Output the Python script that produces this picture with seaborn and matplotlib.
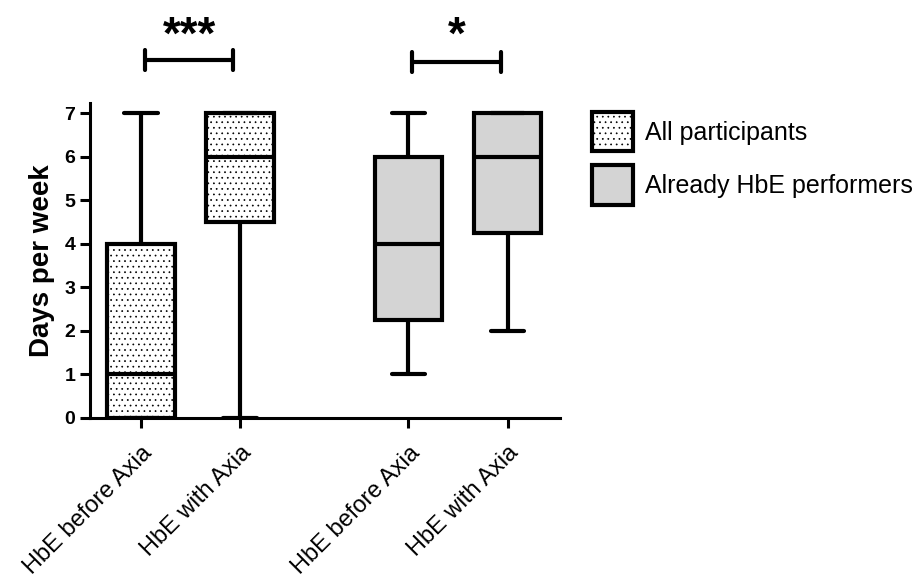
import pandas as pd
import seaborn as sns
from matplotlib import pyplot as plt
from matplotlib.patches import Patch

sns.set_style("ticks")
plt.rcParams['font.family'] = ['Liberation Sans', 'DejaVu Sans']
plt.rcParams['hatch.linewidth'] = 0.5
for k in ['text.color', 'axes.labelcolor', 'axes.edgecolor', 'xtick.color', 'ytick.color']:
    plt.rcParams[k] = 'black'

# days per week, one list per box (quartiles)
all_before = [0, 0, 0, 1, 4, 4, 7]
all_with = [0, 4.5, 4.5, 6, 7, 7, 7]
hbe_before = [1, 2.25, 2.25, 4, 6, 6, 7]
hbe_with = [2, 4.25, 4.25, 6, 7, 7, 7]

tick_labels = ['HbE before Axia', 'HbE with Axia', 'HbE before Axia', 'HbE with Axia']
groups = ['All participants', 'Already HbE performers']
stars = ['***', '*']

# x positions of the boxes (gap between the two groups)
pos = [0, 1, 2.7, 3.7]


def make_df(a, b, xa, xb):
    return pd.DataFrame({'x': [xa] * len(a) + [xb] * len(b), 'days': a + b})


df_all = make_df(all_before, all_with, pos[0], pos[1])
df_hbe = make_df(hbe_before, hbe_with, pos[2], pos[3])

fig = plt.figure(figsize=(9.23, 5.78), dpi=100)
ax = fig.add_axes([90 / 923, 160 / 578, 470 / 923, 315 / 578])

box_kw = dict(x='x', y='days', native_scale=True, whis=(0, 100), width=0.68,
              linewidth=3, linecolor='black', saturation=1, ax=ax)

sns.boxplot(data=df_all, color='white', **box_kw)
n_hatched = len(ax.patches)
sns.boxplot(data=df_hbe, color='#d4d4d4', **box_kw)
for p in ax.patches[:n_hatched]:
    p.set_hatch('...')

ax.set_xlim(-0.515, 4.23)
ax.set_ylim(0, 7.23)
ax.set_yticks(range(8))
ax.set_xticks(pos)
ax.set_xticklabels(tick_labels, rotation=45, ha='right', rotation_mode='anchor',
                   fontsize=17)
for t in ax.get_yticklabels():
    t.set_fontweight('bold')
    t.set_fontsize(14)
ax.set_xlabel('')
ax.set_ylabel('Days per week', fontsize=20, fontweight='bold', labelpad=7)

sns.despine(ax=ax)
for s in ['left', 'bottom']:
    ax.spines[s].set_linewidth(2.2)
ax.tick_params(axis='both', width=2.2, length=7)
ax.tick_params(axis='x', pad=10)

# significance bars
for (x0, x1), y, s in zip([(pos[0], pos[1]), (pos[2], pos[3])], [8.22, 8.17], stars):
    xa, xb = x0 + 0.04, x1 - 0.07
    ax.plot([xa, xb], [y, y], color='black', lw=3, clip_on=False)
    ax.plot([xa, xa], [y - 0.23, y + 0.23], color='black', lw=3, clip_on=False)
    ax.plot([xb, xb], [y - 0.23, y + 0.23], color='black', lw=3, clip_on=False)
    ax.text((xa + xb) / 2, 8.24, s, ha='center', va='bottom', fontsize=33,
            fontweight='bold', clip_on=False)

handles = [Patch(facecolor='white', edgecolor='black', hatch='...', lw=3),
           Patch(facecolor='#d4d4d4', edgecolor='black', lw=3)]
fig.legend(handles, groups, loc='upper left', bbox_to_anchor=(592 / 923, 1 - 112 / 578),
           frameon=False, fontsize=18, handleheight=2.05, handlelength=1.64,
           handletextpad=0.48, labelspacing=0.55, borderpad=0, borderaxespad=0)

fig.savefig('out.png', dpi=100)
